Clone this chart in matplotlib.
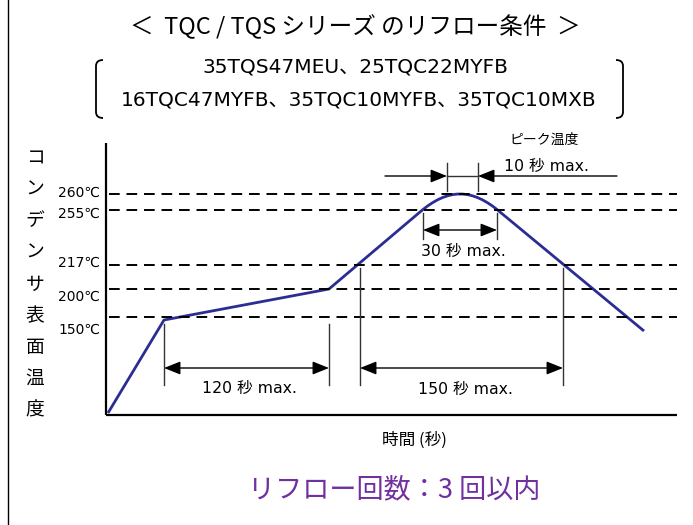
import matplotlib
matplotlib.use("Agg")
import matplotlib.pyplot as plt
from matplotlib.path import Path
from matplotlib.patches import PathPatch, FancyArrowPatch

# ---------------- data ----------------
title = "＜  TQC / TQS シリーズ のリフロー条件  ＞"
models_line1 = "35TQS47MEU、25TQC22MYFB"
models_line2 = "16TQC47MYFB、35TQC10MYFB、35TQC10MXB"
temp_labels = ["260℃", "255℃", "217℃", "200℃", "150℃"]
temp_line_y = [194, 210, 265, 289, 317]       # schematic level positions
temp_label_y = [193, 214, 263, 297, 330]
ylabel_chars = list("コンデンサ表面温度")
xlabel = "時間 (秒)"
footer = "リフロー回数：3 回以内"

# reflow profile (schematic drawing units)
profile_x = [108, 164, 329, 420, 448, 472, 500, 644]
profile_y = [413, 320, 289, 212, 188, 188, 212, 331]

# duration annotations: (x_start, x_end, y_arrow, y_tick_top, y_tick_bottom, text, text_x, text_y)
spans = [
    (164, 329, 368, 324, 385, "120 秒 max.", 249, 388),
    (360, 563, 368, 268, 385, "150 秒 max.", 465, 389),
    (423, 497, 230, 213, 239, "30 秒 max.", 463, 251),
]
peak_span = (447, 478, 176, 163, 191)
peak_text = ("10 秒 max.", 547, 166)
peak_title = ("ピーク温度", 544, 140)

W, H = 693, 525
fig = plt.figure(figsize=(W / 100, H / 100), dpi=100)
ax = fig.add_axes([0, 0, 1, 1])
ax.set_xlim(0, W)
ax.set_ylim(H, 0)
ax.axis("off")

cjk = ["Noto Sans CJK JP", "DejaVu Sans"]
lat = ["DejaVu Sans", "Noto Sans CJK JP"]

# left border
ax.plot([8, 8], [0, H], color="black", lw=1.0)

# titles
ax.text(355, 27, title, ha="center", va="center", fontsize=17, family=cjk)
ax.text(355, 67, models_line1, ha="center", va="center", fontsize=14.5, family=lat)
ax.text(359, 100, models_line2, ha="center", va="center", fontsize=14.5, family=lat)

# brackets
def bracket(xv, xe, y0, y1, r=6):
    verts = [(xe, y0), (xv, y0), (xv, y0 + r), (xv, y1 - r), (xv, y1), (xe, y1)]
    codes = [Path.MOVETO, Path.CURVE3, Path.CURVE3, Path.LINETO, Path.CURVE3, Path.CURVE3]
    ax.add_patch(PathPatch(Path(verts, codes), fill=False, lw=1.3, color="black"))

bracket(96, 103, 60, 118)
bracket(623, 616, 60, 118)

# axes
ax.plot([106, 106], [143, 415], color="black", lw=1.6, solid_capstyle="butt")
ax.plot([106, 677], [415, 415], color="black", lw=1.6, solid_capstyle="butt")

# dashed levels
for yl in temp_line_y:
    ax.plot([109, 677], [yl, yl], color="black", lw=1.4, dashes=(5.5, 3.5))
for lab, yy in zip(temp_labels, temp_label_y):
    ax.text(100, yy, lab, ha="right", va="center", fontsize=10, family=lat)

# y label (vertical)
for i, ch in enumerate(ylabel_chars):
    ax.text(35, 158 + i * 31.5, ch, ha="center", va="center", fontsize=13.5, family=cjk)

# x label
ax.text(414, 440, xlabel, ha="center", va="center", fontsize=12, family=cjk)

# profile
codes = [Path.MOVETO, Path.LINETO, Path.LINETO, Path.LINETO,
         Path.CURVE4, Path.CURVE4, Path.CURVE4, Path.LINETO]
ax.add_patch(PathPatch(Path(list(zip(profile_x, profile_y)), codes),
                       fill=False, lw=2.0, color="#2b2d92", capstyle="butt", joinstyle="round"))

def arrow(x0, x1, y, style):
    ax.add_patch(FancyArrowPatch((x0, y), (x1, y), arrowstyle=style,
                                 mutation_scale=10, lw=1.0, color="black",
                                 shrinkA=0, shrinkB=0))

for xs, xe, ya, yt, yb, txt, tx, ty in spans:
    ax.plot([xs, xs], [yt, yb], color="#333333", lw=1.0)
    ax.plot([xe, xe], [yt, yb], color="#333333", lw=1.0)
    arrow(xs, xe, ya, "<|-|>,head_length=1.0,head_width=0.4")
    ax.text(tx, ty, txt, ha="center", va="center", fontsize=11.3, family=lat)

pxs, pxe, pya, pyt, pyb = peak_span
ax.plot([pxs, pxs], [pyt, pyb], color="#333333", lw=1.0)
ax.plot([pxe, pxe], [pyt, pyb], color="#333333", lw=1.0)
ax.plot([pxs, pxe], [pya, pya], color="#333333", lw=1.0)
arrow(385, pxs, pya, "-|>,head_length=1.0,head_width=0.4")
arrow(617, pxe, pya, "-|>,head_length=1.0,head_width=0.4")
ax.text(peak_text[1], peak_text[2], peak_text[0], ha="center", va="center", fontsize=11.3, family=lat)
ax.text(peak_title[1], peak_title[2], peak_title[0], ha="center", va="center", fontsize=10, family=cjk)

# footer
ax.text(394, 490, footer, ha="center", va="center", fontsize=19.5, color="#7030a0", family=cjk)

fig.savefig("out.png", dpi=100)
